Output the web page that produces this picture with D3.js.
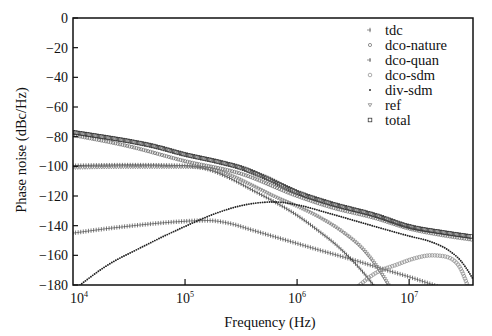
<!DOCTYPE html>
<html>
<head>
<meta charset="utf-8">
<script src="https://cdn.jsdelivr.net/npm/d3@7"></script>
<style>
  html, body { margin: 0; padding: 0; background: #fff; }
  svg { display: block; }
  text { font-family: "Liberation Serif", "Times New Roman", serif; fill: #111; }
</style>
</head>
<body>
<svg id="chart" width="492" height="336"></svg>
<script>
// Phase-noise contributions, [frequency (Hz), dBc/Hz]
const tdc = [[1e4,-145],[10**4.3,-142],[10**4.6,-139.5],[10**4.9,-137.5],[10**5.2,-136.5],[10**5.4,-138.5],[10**5.6,-143],[10**5.8,-147.5],[1e6,-152],[10**6.2,-156.5],[10**6.5,-163],[10**6.8,-170],[1e7,-174.5],[10**7.2,-179.5],[10**7.3,-182]];
const dcoNature = [[1e4,-79],[10**4.5,-86.5],[1e5,-96.5],[10**5.5,-105],[1e6,-120],[10**6.3,-127.5],[10**6.7,-135],[1e7,-142],[10**7.3,-146.5],[10**7.57,-149.5]];
const dcoQuan = [[1e4,-99.5],[10**4.5,-99],[1e5,-99.5],[10**5.2,-102],[10**5.4,-108],[10**5.6,-116],[10**5.8,-124],[1e6,-133],[10**6.2,-144],[10**6.35,-153],[10**6.5,-164],[10**6.65,-177],[10**6.7,-182]];
const dcoSdm = [[10**6.5,-184],[10**6.7,-172],[10**6.9,-166],[10**7.05,-162],[10**7.2,-160],[10**7.3,-160.5],[10**7.4,-163.5],[10**7.46,-169],[10**7.5,-176],[10**7.53,-182]];
const divSdm = [[10**4.03,-182],[10**4.3,-167],[10**4.6,-155],[1e5,-140.5],[10**5.3,-131],[10**5.5,-126.5],[10**5.8,-124],[1e6,-126],[10**6.3,-132],[10**6.6,-138.5],[1e7,-147],[10**7.2,-151],[10**7.35,-156.5],[10**7.47,-164.5],[10**7.53,-171],[10**7.57,-176]];
const ref = [[1e4,-101],[10**4.5,-100.5],[1e5,-100.5],[10**5.2,-101.5],[10**5.4,-106],[10**5.6,-113],[10**5.8,-120.5],[1e6,-127],[10**6.2,-134.5],[10**6.4,-144],[10**6.6,-157],[10**6.75,-172],[10**6.83,-182]];
const total = [[1e4,-77],[10**4.3,-80.5],[10**4.5,-83],[10**4.7,-86],[1e5,-92],[10**5.3,-97],[10**5.5,-101],[10**5.7,-107],[1e6,-117.5],[10**6.3,-125],[10**6.7,-133],[1e7,-140.5],[10**7.3,-144.5],[10**7.57,-147.5]];

const legendNames = ["tdc","dco-nature","dco-quan","dco-sdm","div-sdm","ref","total"];
const yTicks = [0,-20,-40,-60,-80,-100,-120,-140,-160,-180];
const xTicks = [1e4,1e5,1e6,1e7];
const xTickExp = ["4","5","6","7"];

const svg = d3.select("#chart");
const L = 73, R = 473, T = 18, B = 285;

const x = d3.scaleLog().domain([1e4, 10**7.57]).range([L, R]);
const y = d3.scaleLinear().domain([-180, 0]).range([B, T]);

svg.append("defs").append("clipPath").attr("id","plotClip")
  .append("rect").attr("x",L).attr("y",T).attr("width",R-L).attr("height",B-T);

// marker painters: draw one glyph centred at (px, py)
const markers = {
  tdc: (g, px, py) => g.append("line").attr("x1",px).attr("x2",px).attr("y1",py-2.2).attr("y2",py+2.2)
          .attr("stroke","#444").attr("stroke-width",0.7),
  quan: (g, px, py) => g.append("line").attr("x1",px).attr("x2",px).attr("y1",py-2).attr("y2",py+2)
          .attr("stroke","#333").attr("stroke-width",0.7),
  circle: (g, px, py) => g.append("circle").attr("cx",px).attr("cy",py).attr("r",1.6)
          .attr("fill","none").attr("stroke","#666").attr("stroke-width",0.7),
  circleLight: (g, px, py) => g.append("circle").attr("cx",px).attr("cy",py).attr("r",1.8)
          .attr("fill","none").attr("stroke","#888").attr("stroke-width",0.7),
  dot: (g, px, py) => g.append("circle").attr("cx",px).attr("cy",py).attr("r",0.95).attr("fill","#222"),
  tri: (g, px, py) => g.append("path").attr("d",`M${px-1.8},${py-1.3}L${px+1.8},${py-1.3}L${px},${py+1.7}Z`)
          .attr("fill","none").attr("stroke","#777").attr("stroke-width",0.7),
  square: (g, px, py) => g.append("rect").attr("x",px-1.8).attr("y",py-1.8).attr("width",3.6).attr("height",3.6)
          .attr("fill","none").attr("stroke","#333").attr("stroke-width",0.75)
};

const series = [
  {data: tdc, mk: "tdc", step: 2.6, line: "#555"},
  {data: dcoQuan, mk: "quan", step: 2.6, line: "#333"},
  {data: ref, mk: "tri", step: 2.4},
  {data: dcoSdm, mk: "circleLight", step: 2.6},
  {data: divSdm, mk: "dot", step: 2.3},
  {data: dcoNature, mk: "circle", step: 2.4},
  {data: total, mk: "square", step: 2.4}
];

const lineGen = d3.line().x(d => x(d[0])).y(d => y(d[1])).curve(d3.curveMonotoneX);
const plot = svg.append("g").attr("clip-path","url(#plotClip)");

series.forEach(s => {
  const g = plot.append("g");
  const path = g.append("path").attr("d", lineGen(s.data)).attr("fill","none")
    .attr("stroke", s.line || "none").attr("stroke-width", 0.7);
  const node = path.node();
  const len = node.getTotalLength();
  for (let l = 0; l <= len; l += s.step) {
    const p = node.getPointAtLength(l);
    markers[s.mk](g, p.x, p.y);
  }
});

// frame
svg.append("rect").attr("x",L).attr("y",T).attr("width",R-L).attr("height",B-T)
  .attr("fill","none").attr("stroke","#111").attr("stroke-width",1.5);

// y axis ticks (inward) and labels
yTicks.forEach(v => {
  svg.append("line").attr("x1",L).attr("x2",L+5).attr("y1",y(v)).attr("y2",y(v))
    .attr("stroke","#111").attr("stroke-width",1.2);
  svg.append("text").attr("x",L-5).attr("y",y(v)+5).attr("text-anchor","end")
    .attr("font-size",14).text(v === 0 ? "0" : "\u2212" + Math.abs(v));
});

// x axis ticks (inward) and labels
xTicks.forEach((f, i) => {
  if (i > 0) {
    svg.append("line").attr("x1",x(f)).attr("x2",x(f)).attr("y1",B).attr("y2",B-6)
      .attr("stroke","#111").attr("stroke-width",1.2);
  }
  const t = svg.append("text").attr("x", x(f) + (i === 0 ? 6 : 0)).attr("y", 303)
    .attr("text-anchor","middle").attr("font-size",14);
  t.append("tspan").text("10");
  t.append("tspan").attr("dy",-6).attr("font-size",8).text(xTickExp[i]);
});

// axis titles
svg.append("text").attr("x",270).attr("y",327).attr("text-anchor","middle")
  .attr("font-size",14.5).text("Frequency (Hz)");
svg.append("text").attr("transform","translate(26,150) rotate(-90)").attr("text-anchor","middle")
  .attr("font-size",14.5).text("Phase noise (dBc/Hz)");

// legend
const legendMk = ["tdc","circle","quan","circleLight","dot","tri","square"];
legendNames.forEach((name, i) => {
  const cy = 30 + i * 15;
  const g = svg.append("g");
  if (legendMk[i] === "tdc" || legendMk[i] === "quan") {
    g.append("line").attr("x1",367).attr("x2",371).attr("y1",cy).attr("y2",cy).attr("stroke","#666").attr("stroke-width",0.7);
  }
  markers[legendMk[i]](g, 370, cy);
  svg.append("text").attr("x",385).attr("y",cy+4.5).attr("font-size",14.5).text(name);
});
</script>
</body>
</html>
